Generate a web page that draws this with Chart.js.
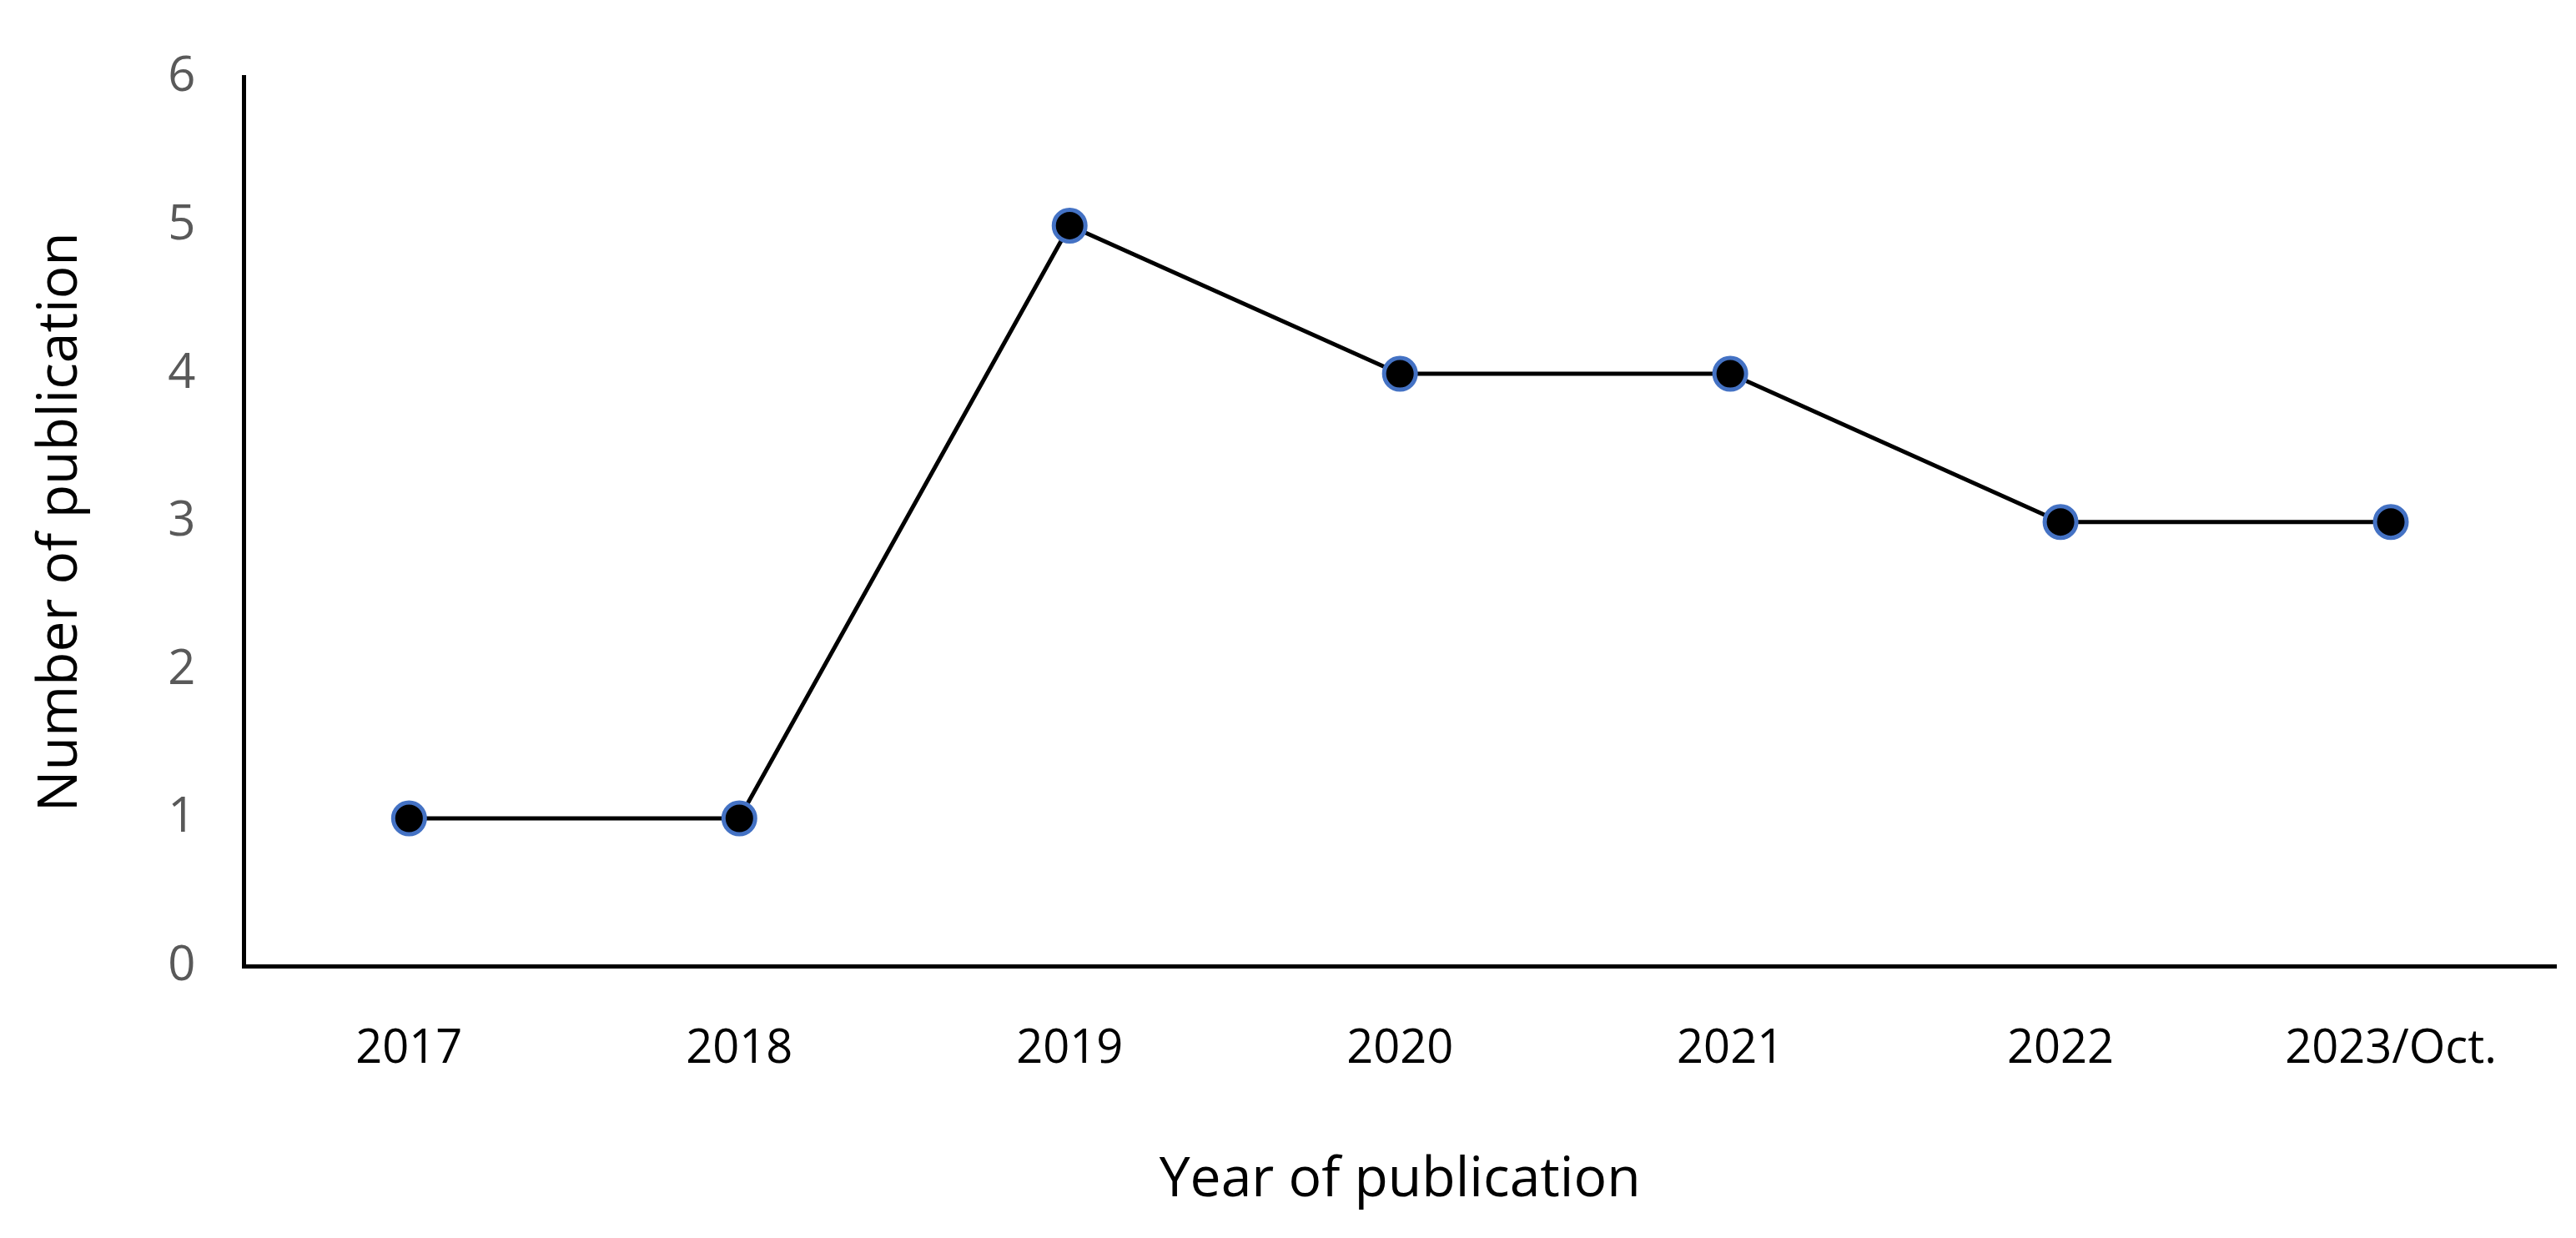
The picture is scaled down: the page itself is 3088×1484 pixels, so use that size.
<!DOCTYPE html>
<html>
<head>
<script src="https://cdn.jsdelivr.net/npm/chart.js@4"></script>
<style>
html, body { margin: 0; padding: 0; background: #fff; }
#wrap { width: 3088px; height: 1484px; }
</style>
</head>
<body>
<div id="wrap"><canvas id="pubChart"></canvas></div>
<script>
var years = ["2017", "2018", "2019", "2020", "2021", "2022", "2023/Oct."];
var counts = [1, 1, 5, 4, 4, 3, 3];
var yTicks = [0, 1, 2, 3, 4, 5, 6];

var ctx = document.getElementById("pubChart").getContext('2d');
var myChart = new Chart(ctx, {
    type: 'line',
    data: {
        labels: years,
        datasets: [{
            data: counts,
            borderColor: "#000000",
            borderWidth: 5,
            pointRadius: 19,
            pointBorderWidth: 5,
            pointBackgroundColor: "#000000",
            pointBorderColor: "#4472C4",
            tension: 0
        }]
    },
    options: {
        responsive: true,
        maintainAspectRatio: false,
        animation: false,
        layout: { padding: { top: 15, right: 20, left: 30, bottom: 25 } },
        plugins: { legend: { display: false }, tooltip: { enabled: false } },
        scales: {
            x: {
                offset: true,
                grid: { display: false, drawTicks: false },
                border: { color: "#000000", width: 5 },
                ticks: { color: "#000000", font: { family: "Open Sans", size: 56 }, padding: 66 },
                title: { display: true, text: "Year of publication", color: "#000000",
                         font: { family: "Open Sans", size: 66 }, padding: { top: 18 } }
            },
            y: {
                min: 0, max: 6,
                afterBuildTicks: function (axis) {
                    axis.ticks = yTicks.map(function (v) { return { value: v }; });
                },
                grid: { display: false, drawTicks: false },
                border: { color: "#000000", width: 5 },
                ticks: { color: "#595959", font: { family: "Open Sans", size: 58 }, padding: 58 },
                title: { display: true, text: "Number of publication", color: "#000000",
                         font: { family: "Open Sans", size: 66 }, padding: { bottom: 30 } }
            }
        }
    }
});
</script>
</body>
</html>
